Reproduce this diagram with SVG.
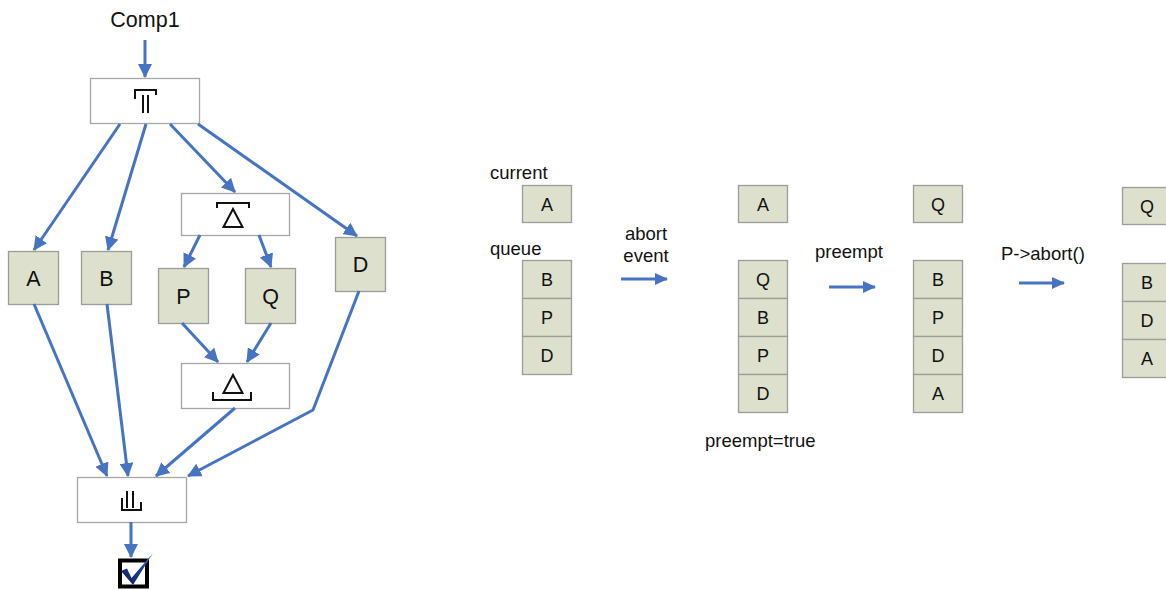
<svg xmlns="http://www.w3.org/2000/svg" width="1166" height="590" viewBox="0 0 1166 590">
  <defs>
    <marker id="arrow" markerUnits="userSpaceOnUse" markerWidth="14" markerHeight="14" refX="13" refY="7" orient="auto">
      <path d="M0,0 L14,7 L0,14 z" fill="#4674c1"/>
    </marker>
    <marker id="arrowSmall" markerUnits="userSpaceOnUse" markerWidth="13" markerHeight="12" refX="12" refY="6" orient="auto">
      <path d="M0,0 L13,6 L0,12 z" fill="#4674c1"/>
    </marker>
    <linearGradient id="tick" x1="0" y1="1" x2="1" y2="0">
      <stop offset="0" stop-color="#101a5c"/>
      <stop offset="0.6" stop-color="#1f3f9c"/>
      <stop offset="1" stop-color="#4a86d8"/>
    </linearGradient>
  </defs>
  <style>
    .ctrl { fill: #ffffff; stroke: #a6a6a6; stroke-width: 1.3; }
    .node { fill: #dde0cc; stroke: #9c9c98; stroke-width: 1.3; }
    .sym { fill: none; stroke: #111111; stroke-width: 2; }
    .big { font-family: "Liberation Sans", Arial, sans-serif; font-size: 21.5px; fill: #111111; text-anchor: middle; }
    .cell { font-family: "Liberation Sans", Arial, sans-serif; font-size: 18px; fill: #111111; text-anchor: middle; }
    .lbl { font-family: "Liberation Sans", Arial, sans-serif; font-size: 18.5px; fill: #111111; }
    .edge { fill: none; stroke: #4674c1; stroke-width: 3; marker-end: url(#arrow); }
    .step { fill: none; stroke: #4674c1; stroke-width: 3; marker-end: url(#arrowSmall); }
  </style>

  <rect width="1166" height="590" fill="#ffffff"/>

  <!-- composite task tree -->
  <text class="big" x="145" y="27">Comp1</text>

  <g id="fork">
    <rect class="ctrl" x="90.5" y="78.5" width="109" height="45"/>
    <path class="sym" d="M135,99 V90 H156 V95 M143,95 V113 M148,95 V113"/>
  </g>

  <g id="nodeA">
    <rect class="node" x="8.5" y="251.5" width="50" height="53"/>
    <text class="big" x="33.5" y="285.5">A</text>
  </g>
  <g id="nodeB">
    <rect class="node" x="81.5" y="251.5" width="50" height="53"/>
    <text class="big" x="106.5" y="285.5">B</text>
  </g>

  <g id="split">
    <rect class="ctrl" x="181.5" y="193.5" width="108" height="42"/>
    <path class="sym" d="M217,208 V203 H249 V208 M233,209 L242.5,227 H223.5 Z"/>
  </g>

  <g id="nodeP">
    <rect class="node" x="158.5" y="268.5" width="50" height="55"/>
    <text class="big" x="183.5" y="303.5">P</text>
  </g>
  <g id="nodeQ">
    <rect class="node" x="245.5" y="268.5" width="50" height="55"/>
    <text class="big" x="270.5" y="303.5">Q</text>
  </g>

  <g id="nodeD">
    <rect class="node" x="335.5" y="237.5" width="50" height="54"/>
    <text class="big" x="360.5" y="271.5">D</text>
  </g>

  <g id="merge">
    <rect class="ctrl" x="181.5" y="363.5" width="108" height="45"/>
    <path class="sym" d="M233,375 L242.5,393 H223.5 Z M213,392 V400 H251 V392"/>
  </g>

  <g id="join">
    <rect class="ctrl" x="77.5" y="477.5" width="109" height="45"/>
    <path class="sym" d="M127,491 V508 M133,491 V508 M122,498 V510 H141 V502"/>
  </g>

  <g id="done">
    <rect x="120" y="560.5" width="27" height="26" fill="#ffffff" stroke="#000000" stroke-width="4"/>
    <path d="M121,571 L127,568.5 L131.5,578 L153,553 L133,585 Z" fill="url(#tick)"/>
  </g>

  <g id="connectors">
    <line class="edge" x1="145" y1="40" x2="145" y2="77"/>
    <line class="edge" x1="120" y1="124" x2="34" y2="250"/>
    <line class="edge" x1="146" y1="124" x2="108" y2="250"/>
    <line class="edge" x1="170" y1="124" x2="235" y2="192"/>
    <line class="edge" x1="198" y1="124" x2="357" y2="236"/>
    <line class="edge" x1="200" y1="235" x2="184" y2="267"/>
    <line class="edge" x1="259" y1="235" x2="271" y2="267"/>
    <line class="edge" x1="182" y1="323" x2="218" y2="362"/>
    <line class="edge" x1="271" y1="323" x2="247" y2="362"/>
    <line class="edge" x1="34" y1="304" x2="107" y2="476"/>
    <line class="edge" x1="107" y1="304" x2="128" y2="476"/>
    <line class="edge" x1="235" y1="408" x2="156" y2="476"/>
    <polyline class="edge" points="359,291 313,410 188,476"/>
    <line class="edge" x1="131" y1="522" x2="131" y2="557"/>

    <line class="step" x1="621" y1="279" x2="667" y2="279"/>
    <line class="step" x1="829" y1="287" x2="875" y2="287"/>
    <line class="step" x1="1019" y1="283" x2="1064" y2="283"/>
  </g>

  <!-- scheduler state, stage 1 -->
  <g id="state1">
    <text class="lbl" x="490" y="179">current</text>
    <rect class="node" x="522.5" y="185.5" width="49" height="37"/>
    <text class="cell" x="547" y="210.5">A</text>
    <text class="lbl" x="490" y="255">queue</text>
    <rect class="node" x="522.5" y="260.5" width="49" height="38"/>
    <text class="cell" x="547" y="286">B</text>
    <rect class="node" x="522.5" y="298.5" width="49" height="38"/>
    <text class="cell" x="547" y="324">P</text>
    <rect class="node" x="522.5" y="336.5" width="49" height="38"/>
    <text class="cell" x="547" y="362">D</text>
  </g>

  <g id="label1">
    <text class="lbl" x="646" y="240" text-anchor="middle">abort</text>
    <text class="lbl" x="646" y="262" text-anchor="middle">event</text>
  </g>

  <!-- stage 2 -->
  <g id="state2">
    <rect class="node" x="738.5" y="185.5" width="49" height="37"/>
    <text class="cell" x="763" y="210.5">A</text>
    <rect class="node" x="738.5" y="260.5" width="49" height="38"/>
    <text class="cell" x="763" y="286">Q</text>
    <rect class="node" x="738.5" y="298.5" width="49" height="38"/>
    <text class="cell" x="763" y="324">B</text>
    <rect class="node" x="738.5" y="336.5" width="49" height="38"/>
    <text class="cell" x="763" y="362">P</text>
    <rect class="node" x="738.5" y="374.5" width="49" height="38"/>
    <text class="cell" x="763" y="400">D</text>
    <text class="lbl" x="705" y="447">preempt=true</text>
  </g>

  <g id="label2">
    <text class="lbl" x="815" y="258">preempt</text>
  </g>

  <!-- stage 3 -->
  <g id="state3">
    <rect class="node" x="913.5" y="185.5" width="49" height="37"/>
    <text class="cell" x="938" y="210.5">Q</text>
    <rect class="node" x="913.5" y="260.5" width="49" height="38"/>
    <text class="cell" x="938" y="286">B</text>
    <rect class="node" x="913.5" y="298.5" width="49" height="38"/>
    <text class="cell" x="938" y="324">P</text>
    <rect class="node" x="913.5" y="336.5" width="49" height="38"/>
    <text class="cell" x="938" y="362">D</text>
    <rect class="node" x="913.5" y="374.5" width="49" height="38"/>
    <text class="cell" x="938" y="400">A</text>
  </g>

  <g id="label3">
    <text class="lbl" x="1001" y="260">P-&gt;abort()</text>
  </g>

  <!-- stage 4 -->
  <g id="state4">
    <rect class="node" x="1122.5" y="187.5" width="49" height="37"/>
    <text class="cell" x="1147" y="212.5">Q</text>
    <rect class="node" x="1122.5" y="263.5" width="49" height="38"/>
    <text class="cell" x="1147" y="289">B</text>
    <rect class="node" x="1122.5" y="301.5" width="49" height="38"/>
    <text class="cell" x="1147" y="327">D</text>
    <rect class="node" x="1122.5" y="339.5" width="49" height="38"/>
    <text class="cell" x="1147" y="365">A</text>
  </g>
</svg>
